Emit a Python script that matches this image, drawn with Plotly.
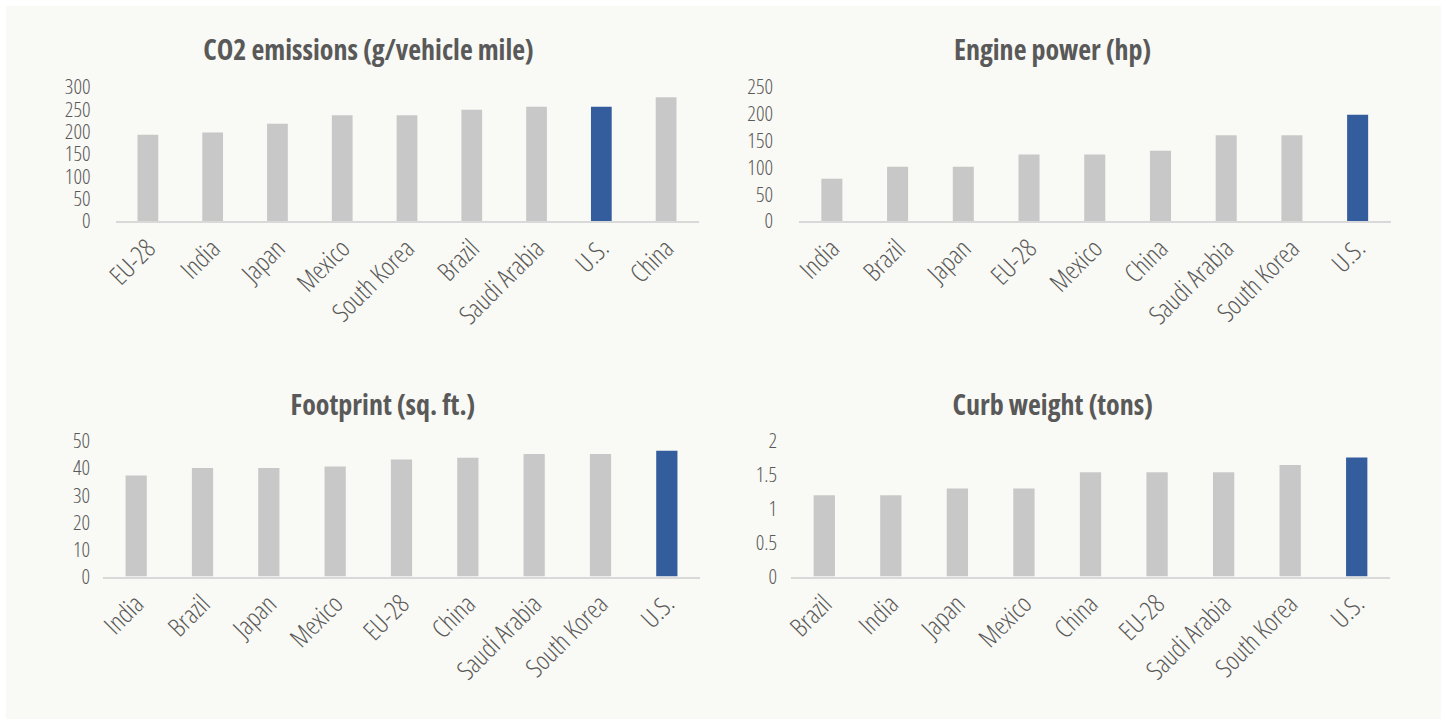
import plotly.graph_objects as go

W, H = 1447, 725

# ---- data ----
co2_countries = ["EU-28", "India", "Japan", "Mexico", "South Korea", "Brazil", "Saudi Arabia", "U.S.", "China"]
co2_values = [193, 198, 218, 237, 237, 249, 256, 256, 277]

power_countries = ["India", "Brazil", "Japan", "EU-28", "Mexico", "China", "Saudi Arabia", "South Korea", "U.S."]
power_values = [79, 101, 101, 124, 124, 131, 160, 160, 198]

footprint_countries = ["India", "Brazil", "Japan", "Mexico", "EU-28", "China", "Saudi Arabia", "South Korea", "U.S."]
footprint_values = [37.3, 40.0, 40.0, 40.6, 43.2, 43.8, 45.2, 45.2, 46.4]

weight_countries = ["Brazil", "India", "Japan", "Mexico", "China", "EU-28", "Saudi Arabia", "South Korea", "U.S."]
weight_values = [1.20, 1.20, 1.30, 1.30, 1.54, 1.54, 1.54, 1.645, 1.755]

titles = ["CO2 emissions (g/vehicle mile)", "Engine power (hp)", "Footprint (sq. ft.)", "Curb weight (tons)"]
y_ranges = [[0, 300], [0, 250], [0, 50], [0, 2]]
y_dticks = [50, 50, 10, 0.5]
highlight = "U.S."

# ---- style ----
GRAY = "#c8c8c8"
BLUE = "#345d9d"
TEXT = "#595959"
FONT = "Open Sans, Noto Sans, sans-serif"

def px_x(a, b):
    return [a / W, b / W]

def px_y(top, bottom):
    return [(H - bottom) / H, (H - top) / H]

panels = [
    dict(x=px_x(115.5, 698.5), y=px_y(87, 221), standoff=24, title_xy=(368, 49)),
    dict(x=px_x(799, 1390.5), y=px_y(87, 221), standoff=25, title_xy=(1052, 49)),
    dict(x=px_x(103, 700), y=px_y(441, 576.5), standoff=12, title_xy=(383, 404)),
    dict(x=px_x(791, 1390), y=px_y(441, 576.5), standoff=13, title_xy=(1052, 404)),
]

datasets = [
    (co2_countries, co2_values),
    (power_countries, power_values),
    (footprint_countries, footprint_values),
    (weight_countries, weight_values),
]

fig = go.Figure()
layout = {}
annotations = []
for i, ((cats, vals), p) in enumerate(zip(datasets, panels)):
    n = i + 1
    xa = "x" if n == 1 else f"x{n}"
    ya = "y" if n == 1 else f"y{n}"
    colors = [BLUE if c == highlight else GRAY for c in cats]
    fig.add_trace(go.Bar(
        x=cats, y=vals, marker=dict(color=colors, line=dict(width=0)),
        xaxis=xa, yaxis=ya, showlegend=False, hoverinfo="x+y",
    ))
    xkey = "xaxis" if n == 1 else f"xaxis{n}"
    ykey = "yaxis" if n == 1 else f"yaxis{n}"
    layout[xkey] = dict(
        domain=p["x"], anchor=ya, showline=True, linecolor="#d9d9d9", linewidth=2,
        ticks="", showgrid=False, zeroline=False, tickangle=-45, automargin=False,
        tickfont=dict(family=FONT, size=26, color=TEXT, weight=300), fixedrange=True,
    )
    layout[ykey] = dict(
        domain=p["y"], anchor=xa, range=y_ranges[i], dtick=y_dticks[i], tick0=0,
        showline=False, showgrid=False, zeroline=False, ticks="", automargin=False,
        ticklabelstandoff=p["standoff"],
        tickfont=dict(family=FONT, size=21, color=TEXT, weight=300), fixedrange=True,
    )
    tx, ty = p["title_xy"]
    annotations.append(dict(
        text=f"<b>{titles[i]}</b>", x=tx / W, y=(H - ty) / H, xref="paper", yref="paper",
        xanchor="center", yanchor="middle", showarrow=False,
        font=dict(family=FONT, size=28, color=TEXT),
    ))

fig.update_layout(
    width=W, height=H,
    margin=dict(l=0, r=0, t=0, b=0, autoexpand=False),
    paper_bgcolor="white",
    plot_bgcolor="rgba(0,0,0,0)",
    bargap=0.68,
    annotations=annotations,
    shapes=[dict(
        type="rect", xref="paper", yref="paper",
        x0=6 / W, x1=1441 / W, y0=(H - 719) / H, y1=(H - 6) / H,
        fillcolor="#f9f9f5", line=dict(width=0), layer="below",
    )],
    **layout,
)

fig.write_html(
    "out.html",
    config={"displayModeBar": False},
    post_script=(
        "document.body.style.margin='0';"
        "document.body.style.overflow='hidden';"
        "document.querySelectorAll('.main-svg text').forEach(function(t){t.style.fontStretch='condensed';});"
    ),
)
